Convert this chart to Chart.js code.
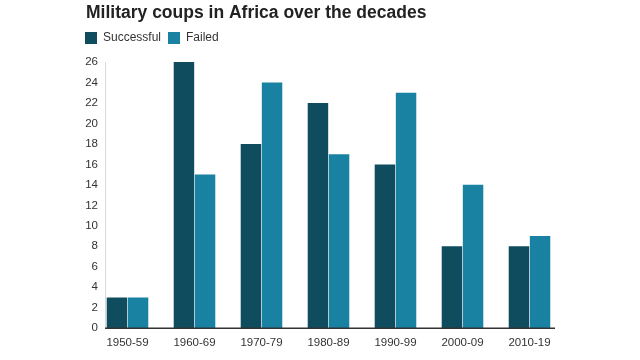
<!DOCTYPE html>
<html>
<head>
<meta charset="utf-8">
<script src="https://cdn.jsdelivr.net/npm/chart.js@4/dist/chart.umd.min.js"></script>
<style>
  html, body { margin: 0; padding: 0; background: #fff; }
  #wrap { width: 640px; height: 360px; }
</style>
</head>
<body>
<div id="wrap"><canvas id="chart" width="640" height="360"></canvas></div>
<script>
const decades = ['1950-59', '1960-69', '1970-79', '1980-89', '1990-99', '2000-09', '2010-19'];
const successful = [3, 26, 18, 22, 16, 8, 8];
const failed = [3, 15, 24, 17, 23, 14, 9];
const yTicks = [0, 2, 4, 6, 8, 10, 12, 14, 16, 18, 20, 22, 24, 26];

const FONT = "'Liberation Sans', Arial, sans-serif";

// extra room under the legend, and pull it flush with the title
const legendTweak = {
  id: 'legendTweak',
  beforeInit(chart) {
    const fit = chart.legend.fit;
    chart.legend.fit = function () {
      fit.bind(chart.legend)();
      this.height += 8;
    };
  },
  beforeDraw(chart) {
    if (!chart.legend._shifted) {
      chart.legend.left -= 8;
      chart.legend.right -= 8;
      chart.legend._shifted = true;
    }
  },
  afterUpdate(chart) {
    chart.legend._shifted = false;
  }
};

// axis lines and y labels (labels sit a little inside the plot box)
const axisLines = {
  id: 'axisLines',
  afterDatasetsDraw(chart) {
    const { ctx, chartArea, scales } = chart;
    const x0 = chartArea.left + 11;
    const x1 = chartArea.right - 8;
    const yTop = scales.y.getPixelForValue(26);
    const yZero = scales.y.getPixelForValue(0);
    ctx.save();
    ctx.strokeStyle = '#d9d9d9';
    ctx.lineWidth = 1;
    ctx.beginPath();
    ctx.moveTo(x0 + 0.5, yTop);
    ctx.lineTo(x0 + 0.5, yZero);
    ctx.stroke();
    ctx.strokeStyle = '#333';
    ctx.lineWidth = 1.5;
    ctx.beginPath();
    ctx.moveTo(x0, yZero);
    ctx.lineTo(x1, yZero);
    ctx.stroke();

    ctx.fillStyle = '#333';
    ctx.font = '11.5px ' + FONT;
    ctx.textAlign = 'right';
    ctx.textBaseline = 'middle';
    scales.y.ticks.forEach(t => {
      ctx.fillText(String(t.value), chartArea.left + 4, scales.y.getPixelForValue(t.value));
    });
    ctx.restore();
  }
};

new Chart(document.getElementById('chart'), {
  type: 'bar',
  data: {
    labels: decades,
    datasets: [
      { label: 'Successful', data: successful, backgroundColor: '#0f4c5d' },
      { label: 'Failed', data: failed, backgroundColor: '#1981a2' }
    ]
  },
  options: {
    responsive: false,
    animation: false,
    layout: { padding: { left: 86, right: 77, top: 0, bottom: 2 } },
    datasets: { bar: { categoryPercentage: 0.63, barPercentage: 0.97 } },
    plugins: {
      title: {
        display: true,
        text: 'Military coups in Africa over the decades',
        align: 'start',
        color: '#222',
        font: { family: FONT, size: 17.5, weight: 'bold' },
        padding: { top: 3, bottom: 1 }
      },
      legend: {
        align: 'start',
        labels: {
          boxWidth: 12,
          boxHeight: 12,
          color: '#333',
          padding: 7,
          font: { family: FONT, size: 12 }
        }
      },
      tooltip: { enabled: false }
    },
    scales: {
      x: {
        grid: { display: false, drawTicks: false },
        border: { display: false },
        ticks: { color: '#333', padding: 8, font: { family: FONT, size: 11.5 } }
      },
      y: {
        min: 0,
        max: 26,
        afterFit(scale) { scale.width = 8; },
        afterBuildTicks(scale) { scale.ticks = yTicks.map(v => ({ value: v })); },
        grid: { display: false, drawTicks: false },
        border: { display: false },
        ticks: { display: false }
      }
    }
  },
  plugins: [legendTweak, axisLines]
});
</script>
</body>
</html>
